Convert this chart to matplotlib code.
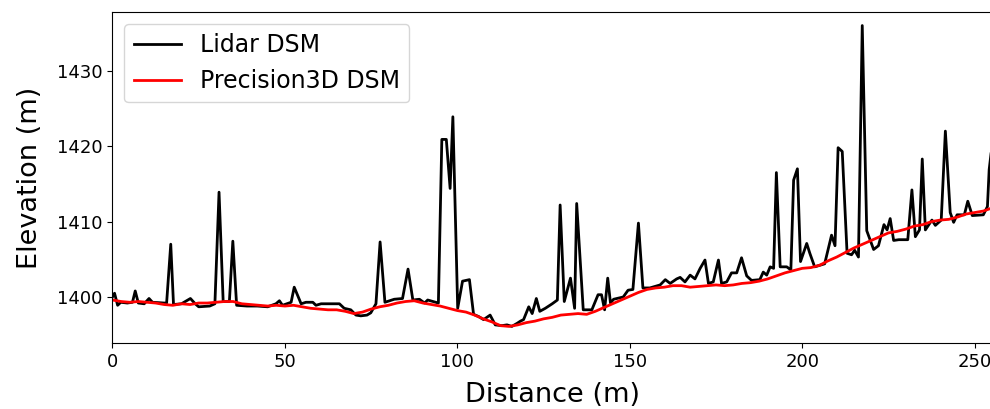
import matplotlib.pyplot as plt
import numpy as np

# Lidar DSM profile (distance m, elevation m)
lidar_dist = [
    0.0, 0.6, 1.5, 2.4, 4.3, 5.8, 6.6, 7.5, 9.2, 10.6, 11.6, 15.0, 15.7, 16.9, 17.7,
    20.0, 22.6, 24.0, 25.0, 28.2, 29.7, 30.9, 32.1, 33.9, 34.9, 36.0, 39.0, 42.0,
    45.0, 47.4, 48.4, 49.3, 51.8, 52.7, 54.7, 56.1, 58.1, 59.0, 60.5, 62.4, 65.8,
    67.2, 69.1, 70.6, 72.0, 73.8, 74.9, 76.4, 77.6, 79.0, 81.7, 84.1, 85.7, 87.1,
    89.0, 90.5, 91.4, 92.9, 94.5, 95.5, 96.8, 97.9, 98.7, 100.1, 101.5, 103.5,
    104.7, 106.2, 107.6, 109.5, 111.0, 112.9, 114.4, 115.8, 117.3, 118.3, 119.2,
    120.7, 121.7, 122.9, 123.9, 125.5, 127.5, 129.0, 129.8, 131.0, 132.8, 134.0,
    134.6, 136.5, 139.0, 140.8, 141.8, 142.7, 143.6, 144.4, 145.3, 148.1, 149.5,
    150.9, 152.5, 153.8, 155.8, 158.8, 160.3, 161.7, 163.6, 164.6, 166.0, 167.5,
    168.9, 170.4, 171.8, 172.8, 174.2, 175.7, 176.6, 178.1, 179.5, 181.0, 182.4,
    183.9, 185.3, 187.7, 188.7, 189.7, 190.7, 191.7, 192.5, 193.6, 195.5, 196.7,
    197.5, 198.6, 199.5, 201.3, 202.2, 203.6, 205.1, 206.5, 208.5, 209.5, 210.4,
    211.6, 213.0, 214.3, 215.2, 216.3, 217.4, 218.7, 220.7, 222.1, 223.7, 224.6,
    225.5, 226.5, 228.0, 230.6, 231.8, 232.8, 234.0, 234.8, 235.7, 237.6, 238.6,
    240.3, 241.5, 242.9, 243.9, 244.9, 247.0, 248.0, 249.3, 252.5, 253.7, 254.2,
    255.5,
]
lidar_elev = [
    1400.0, 1400.5, 1398.9, 1399.3, 1399.2, 1399.3, 1400.8, 1399.2, 1399.1, 1399.8,
    1399.3, 1399.2, 1399.2, 1407.0, 1399.0, 1399.1, 1399.8, 1399.1, 1398.7, 1398.8,
    1399.1, 1413.9, 1399.4, 1399.4, 1407.4, 1398.9, 1398.8, 1398.8, 1398.7, 1399.1,
    1399.5, 1398.9, 1399.3, 1401.3, 1399.1, 1399.3, 1399.3, 1398.9, 1399.1, 1399.1,
    1399.1, 1398.5, 1398.3, 1397.6, 1397.5, 1397.6, 1397.9, 1399.1, 1407.3, 1399.3,
    1399.7, 1399.8, 1403.7, 1399.6, 1399.7, 1399.2, 1399.6, 1399.4, 1399.2, 1420.9,
    1420.9, 1414.4, 1423.9, 1398.5, 1402.1, 1402.3, 1397.7, 1397.4, 1397.0, 1397.6,
    1396.3, 1396.2, 1396.3, 1396.1, 1396.5, 1396.8, 1397.0, 1398.7, 1397.8, 1399.8,
    1398.1, 1398.5, 1399.1, 1399.6, 1412.2, 1399.4, 1402.5, 1398.5, 1412.4, 1398.3,
    1398.3, 1400.3, 1400.3, 1398.3, 1402.5, 1399.2, 1399.7, 1400.0, 1400.9, 1401.0,
    1409.8, 1401.2, 1401.2, 1401.6, 1402.3, 1401.8, 1402.4, 1402.6, 1402.0, 1402.9,
    1402.4, 1403.8, 1404.9, 1401.8, 1402.0, 1404.9, 1401.8, 1402.0, 1403.2, 1403.2,
    1405.2, 1402.8, 1402.2, 1402.3, 1403.3, 1402.9, 1404.0, 1403.8, 1416.5, 1404.0,
    1404.0, 1403.6, 1415.5, 1417.0, 1404.7, 1407.1, 1405.8, 1404.0, 1404.2, 1404.4,
    1408.2, 1406.8, 1419.8, 1419.3, 1405.8, 1405.6, 1406.2, 1405.3, 1436.0, 1408.8,
    1406.3, 1406.8, 1409.6, 1408.9, 1410.4, 1407.5, 1407.6, 1407.6, 1414.2, 1408.0,
    1408.9, 1418.3, 1408.9, 1410.2, 1409.5, 1410.2, 1422.0, 1411.2, 1409.9, 1410.9,
    1410.9, 1412.7, 1410.8, 1410.9, 1412.0, 1416.9, 1422.0,
]

# Precision3D DSM profile, every 2.5 m
p3d_dist = np.arange(0, 255.1, 2.5)
p3d_elev = [
    1399.6, 1399.4, 1399.3, 1399.4, 1399.3, 1399.2, 1399.0, 1398.9, 1399.1, 1399.0,
    1399.2, 1399.2, 1399.3, 1399.4, 1399.4, 1399.1, 1399.0, 1398.9, 1398.8, 1398.9,
    1398.8, 1398.9, 1398.7, 1398.5, 1398.4, 1398.3, 1398.3, 1398.1, 1397.8, 1398.0,
    1398.4, 1398.7, 1398.9, 1399.2, 1399.4, 1399.5, 1399.2, 1399.0, 1398.8, 1398.5,
    1398.2, 1398.0, 1397.6, 1397.1, 1396.7, 1396.2, 1396.1, 1396.3, 1396.6, 1396.8,
    1397.1, 1397.3, 1397.6, 1397.7, 1397.8, 1397.7, 1398.1, 1398.6, 1399.1, 1399.6,
    1400.1, 1400.6, 1401.0, 1401.2, 1401.3, 1401.5, 1401.5, 1401.3, 1401.4, 1401.5,
    1401.6, 1401.5, 1401.6, 1401.8, 1401.9, 1402.1, 1402.4, 1402.8, 1403.2, 1403.5,
    1403.8, 1403.9, 1404.2, 1404.8, 1405.3, 1405.9, 1406.5, 1407.0, 1407.5, 1408.0,
    1408.5, 1408.7, 1409.0, 1409.4, 1409.6, 1410.0, 1410.2, 1410.3, 1410.6, 1411.0,
    1411.2, 1411.4, 1411.8,
]

fig = plt.figure(figsize=(9.9, 4.09), dpi=100)
ax = fig.add_axes([0.1136, 0.1614, 0.888, 0.8093])

ax.plot(lidar_dist, lidar_elev, color='black', lw=2, label='Lidar DSM')
ax.plot(p3d_dist, p3d_elev, color='red', lw=2, label='Precision3D DSM')

ax.set_xlim(0, 254.9)
ax.set_ylim(1393.9, 1437.8)
ax.set_xticks([0, 50, 100, 150, 200, 250])
ax.set_yticks([1400, 1410, 1420, 1430])
ax.tick_params(labelsize=13)
ax.set_xlabel('Distance (m)', fontsize=19.5, labelpad=8)
ax.set_ylabel('Elevation (m)', fontsize=19.5, labelpad=10)
ax.legend(loc='upper left', fontsize=17)

fig.savefig('out.png', dpi=100)
